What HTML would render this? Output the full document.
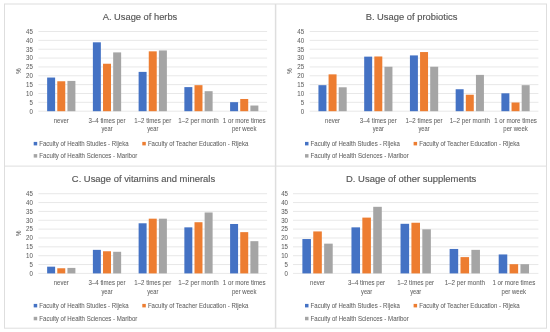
<!DOCTYPE html>
<html><head><meta charset="utf-8"><title>Usage charts</title>
<style>
html,body{margin:0;padding:0;background:#fff;}
body{width:550px;height:332px;overflow:hidden;}
svg{display:block;}
svg text{font-family:"Liberation Sans",sans-serif;fill:#626262;stroke:#626262;stroke-width:0.05px;}
svg text.ttl{fill:#555;stroke:#555;stroke-width:0.14px;}
</style></head><body>
<svg width="550" height="332" viewBox="0 0 550 332">
<defs><filter id="soft" x="0" y="0" width="100%" height="100%" filterUnits="userSpaceOnUse" color-interpolation-filters="sRGB"><feGaussianBlur stdDeviation="0.35"/></filter></defs>
<rect width="550" height="332" fill="#fff"/>
<g filter="url(#soft)">
<rect width="550" height="332" fill="#fff"/>
<rect x="4.5" y="4.0" width="542.0" height="324.2" fill="#fff" stroke="#dedede" stroke-width="1"/>
<line x1="4.5" x2="546.5" y1="166.1" y2="166.1" stroke="#dedede" stroke-width="1"/>
<line x1="275.6" x2="275.6" y1="4.0" y2="328.2" stroke="#dedede" stroke-width="1.5"/>
<g transform="translate(0.00,0.00)">
<line x1="38.40" x2="267.10" y1="111.20" y2="111.20" stroke="#d9d9d9" stroke-width="0.6"/>
<text x="32.80" y="113.50" font-size="6.5" text-anchor="end" textLength="3.4" lengthAdjust="spacingAndGlyphs">0</text>
<line x1="38.40" x2="267.10" y1="102.34" y2="102.34" stroke="#d9d9d9" stroke-width="0.6"/>
<text x="32.80" y="104.64" font-size="6.5" text-anchor="end" textLength="3.4" lengthAdjust="spacingAndGlyphs">5</text>
<line x1="38.40" x2="267.10" y1="93.49" y2="93.49" stroke="#d9d9d9" stroke-width="0.6"/>
<text x="32.80" y="95.79" font-size="6.5" text-anchor="end" textLength="6.8" lengthAdjust="spacingAndGlyphs">10</text>
<line x1="38.40" x2="267.10" y1="84.64" y2="84.64" stroke="#d9d9d9" stroke-width="0.6"/>
<text x="32.80" y="86.94" font-size="6.5" text-anchor="end" textLength="6.8" lengthAdjust="spacingAndGlyphs">15</text>
<line x1="38.40" x2="267.10" y1="75.78" y2="75.78" stroke="#d9d9d9" stroke-width="0.6"/>
<text x="32.80" y="78.08" font-size="6.5" text-anchor="end" textLength="6.8" lengthAdjust="spacingAndGlyphs">20</text>
<line x1="38.40" x2="267.10" y1="66.93" y2="66.93" stroke="#d9d9d9" stroke-width="0.6"/>
<text x="32.80" y="69.23" font-size="6.5" text-anchor="end" textLength="6.8" lengthAdjust="spacingAndGlyphs">25</text>
<line x1="38.40" x2="267.10" y1="58.07" y2="58.07" stroke="#d9d9d9" stroke-width="0.6"/>
<text x="32.80" y="60.37" font-size="6.5" text-anchor="end" textLength="6.8" lengthAdjust="spacingAndGlyphs">30</text>
<line x1="38.40" x2="267.10" y1="49.22" y2="49.22" stroke="#d9d9d9" stroke-width="0.6"/>
<text x="32.80" y="51.52" font-size="6.5" text-anchor="end" textLength="6.8" lengthAdjust="spacingAndGlyphs">35</text>
<line x1="38.40" x2="267.10" y1="40.36" y2="40.36" stroke="#d9d9d9" stroke-width="0.6"/>
<text x="32.80" y="42.66" font-size="6.5" text-anchor="end" textLength="6.8" lengthAdjust="spacingAndGlyphs">40</text>
<line x1="38.40" x2="267.10" y1="31.51" y2="31.51" stroke="#d9d9d9" stroke-width="0.6"/>
<text x="32.80" y="33.81" font-size="6.5" text-anchor="end" textLength="6.8" lengthAdjust="spacingAndGlyphs">45</text>
<text transform="translate(20.9,71.1) rotate(-90)" font-size="7" text-anchor="middle" textLength="5.8" lengthAdjust="spacingAndGlyphs">%</text>
<rect x="47.14" y="77.55" width="7.98" height="33.65" fill="#4472c4"/>
<rect x="57.28" y="81.27" width="7.98" height="29.93" fill="#ed7d31"/>
<rect x="67.42" y="80.92" width="7.98" height="30.28" fill="#a5a5a5"/>
<text x="61.27" y="122.70" font-size="6.5" text-anchor="middle" textLength="14.9" lengthAdjust="spacingAndGlyphs">never</text>
<rect x="92.88" y="42.31" width="7.98" height="68.89" fill="#4472c4"/>
<rect x="103.02" y="63.74" width="7.98" height="47.46" fill="#ed7d31"/>
<rect x="113.16" y="52.40" width="7.98" height="58.80" fill="#a5a5a5"/>
<text x="107.01" y="122.70" font-size="6.5" text-anchor="middle" textLength="37.0" lengthAdjust="spacingAndGlyphs">3–4 times per</text>
<text x="107.01" y="131.20" font-size="6.5" text-anchor="middle" textLength="11.1" lengthAdjust="spacingAndGlyphs">year</text>
<rect x="138.62" y="71.88" width="7.98" height="39.32" fill="#4472c4"/>
<rect x="148.76" y="51.34" width="7.98" height="59.86" fill="#ed7d31"/>
<rect x="158.90" y="50.45" width="7.98" height="60.75" fill="#a5a5a5"/>
<text x="152.75" y="122.70" font-size="6.5" text-anchor="middle" textLength="36.9" lengthAdjust="spacingAndGlyphs">1–2 times per</text>
<text x="152.75" y="131.20" font-size="6.5" text-anchor="middle" textLength="11.1" lengthAdjust="spacingAndGlyphs">year</text>
<rect x="184.36" y="87.11" width="7.98" height="24.09" fill="#4472c4"/>
<rect x="194.50" y="85.17" width="7.98" height="26.03" fill="#ed7d31"/>
<rect x="204.64" y="91.19" width="7.98" height="20.01" fill="#a5a5a5"/>
<text x="198.49" y="122.70" font-size="6.5" text-anchor="middle" textLength="40.3" lengthAdjust="spacingAndGlyphs">1–2 per month</text>
<rect x="230.10" y="102.17" width="7.98" height="9.03" fill="#4472c4"/>
<rect x="240.24" y="98.98" width="7.98" height="12.22" fill="#ed7d31"/>
<rect x="250.38" y="105.53" width="7.98" height="5.67" fill="#a5a5a5"/>
<text x="244.23" y="122.70" font-size="6.5" text-anchor="middle" textLength="42.8" lengthAdjust="spacingAndGlyphs">1 or more times</text>
<text x="244.23" y="131.20" font-size="6.5" text-anchor="middle" textLength="24.5" lengthAdjust="spacingAndGlyphs">per week</text>
<text x="140.00" y="19.90" font-size="9.1" text-anchor="middle" textLength="74.6" lengthAdjust="spacingAndGlyphs" class="ttl">A. Usage of herbs</text>
<rect x="33.70" y="141.90" width="3.5" height="3.5" fill="#4472c4"/>
<text x="39.30" y="145.80" font-size="6.5" text-anchor="start" textLength="89.3" lengthAdjust="spacingAndGlyphs">Faculty of Health Studies - Rijeka</text>
<rect x="142.30" y="141.90" width="3.5" height="3.5" fill="#ed7d31"/>
<text x="147.90" y="145.80" font-size="6.5" text-anchor="start" textLength="100.4" lengthAdjust="spacingAndGlyphs">Faculty of Teacher Education - Rijeka</text>
<rect x="33.70" y="154.10" width="3.5" height="3.5" fill="#a5a5a5"/>
<text x="39.30" y="158.00" font-size="6.5" text-anchor="start" textLength="98.1" lengthAdjust="spacingAndGlyphs">Faculty of Health Sciences - Maribor</text>
</g>
<g transform="translate(271.30,0.00)">
<line x1="38.40" x2="267.10" y1="111.20" y2="111.20" stroke="#d9d9d9" stroke-width="0.6"/>
<text x="32.80" y="113.50" font-size="6.5" text-anchor="end" textLength="3.4" lengthAdjust="spacingAndGlyphs">0</text>
<line x1="38.40" x2="267.10" y1="102.34" y2="102.34" stroke="#d9d9d9" stroke-width="0.6"/>
<text x="32.80" y="104.64" font-size="6.5" text-anchor="end" textLength="3.4" lengthAdjust="spacingAndGlyphs">5</text>
<line x1="38.40" x2="267.10" y1="93.49" y2="93.49" stroke="#d9d9d9" stroke-width="0.6"/>
<text x="32.80" y="95.79" font-size="6.5" text-anchor="end" textLength="6.8" lengthAdjust="spacingAndGlyphs">10</text>
<line x1="38.40" x2="267.10" y1="84.64" y2="84.64" stroke="#d9d9d9" stroke-width="0.6"/>
<text x="32.80" y="86.94" font-size="6.5" text-anchor="end" textLength="6.8" lengthAdjust="spacingAndGlyphs">15</text>
<line x1="38.40" x2="267.10" y1="75.78" y2="75.78" stroke="#d9d9d9" stroke-width="0.6"/>
<text x="32.80" y="78.08" font-size="6.5" text-anchor="end" textLength="6.8" lengthAdjust="spacingAndGlyphs">20</text>
<line x1="38.40" x2="267.10" y1="66.93" y2="66.93" stroke="#d9d9d9" stroke-width="0.6"/>
<text x="32.80" y="69.23" font-size="6.5" text-anchor="end" textLength="6.8" lengthAdjust="spacingAndGlyphs">25</text>
<line x1="38.40" x2="267.10" y1="58.07" y2="58.07" stroke="#d9d9d9" stroke-width="0.6"/>
<text x="32.80" y="60.37" font-size="6.5" text-anchor="end" textLength="6.8" lengthAdjust="spacingAndGlyphs">30</text>
<line x1="38.40" x2="267.10" y1="49.22" y2="49.22" stroke="#d9d9d9" stroke-width="0.6"/>
<text x="32.80" y="51.52" font-size="6.5" text-anchor="end" textLength="6.8" lengthAdjust="spacingAndGlyphs">35</text>
<line x1="38.40" x2="267.10" y1="40.36" y2="40.36" stroke="#d9d9d9" stroke-width="0.6"/>
<text x="32.80" y="42.66" font-size="6.5" text-anchor="end" textLength="6.8" lengthAdjust="spacingAndGlyphs">40</text>
<line x1="38.40" x2="267.10" y1="31.51" y2="31.51" stroke="#d9d9d9" stroke-width="0.6"/>
<text x="32.80" y="33.81" font-size="6.5" text-anchor="end" textLength="6.8" lengthAdjust="spacingAndGlyphs">45</text>
<text transform="translate(20.9,71.1) rotate(-90)" font-size="7" text-anchor="middle" textLength="5.8" lengthAdjust="spacingAndGlyphs">%</text>
<rect x="47.14" y="85.17" width="7.98" height="26.03" fill="#4472c4"/>
<rect x="57.28" y="74.36" width="7.98" height="36.84" fill="#ed7d31"/>
<rect x="67.42" y="87.29" width="7.98" height="23.91" fill="#a5a5a5"/>
<text x="61.27" y="122.70" font-size="6.5" text-anchor="middle" textLength="14.9" lengthAdjust="spacingAndGlyphs">never</text>
<rect x="92.88" y="56.65" width="7.98" height="54.55" fill="#4472c4"/>
<rect x="103.02" y="56.48" width="7.98" height="54.72" fill="#ed7d31"/>
<rect x="113.16" y="66.75" width="7.98" height="44.45" fill="#a5a5a5"/>
<text x="107.01" y="122.70" font-size="6.5" text-anchor="middle" textLength="37.0" lengthAdjust="spacingAndGlyphs">3–4 times per</text>
<text x="107.01" y="131.20" font-size="6.5" text-anchor="middle" textLength="11.1" lengthAdjust="spacingAndGlyphs">year</text>
<rect x="138.62" y="55.41" width="7.98" height="55.79" fill="#4472c4"/>
<rect x="148.76" y="52.05" width="7.98" height="59.15" fill="#ed7d31"/>
<rect x="158.90" y="66.75" width="7.98" height="44.45" fill="#a5a5a5"/>
<text x="152.75" y="122.70" font-size="6.5" text-anchor="middle" textLength="36.9" lengthAdjust="spacingAndGlyphs">1–2 times per</text>
<text x="152.75" y="131.20" font-size="6.5" text-anchor="middle" textLength="11.1" lengthAdjust="spacingAndGlyphs">year</text>
<rect x="184.36" y="89.24" width="7.98" height="21.96" fill="#4472c4"/>
<rect x="194.50" y="94.73" width="7.98" height="16.47" fill="#ed7d31"/>
<rect x="204.64" y="74.89" width="7.98" height="36.31" fill="#a5a5a5"/>
<text x="198.49" y="122.70" font-size="6.5" text-anchor="middle" textLength="40.3" lengthAdjust="spacingAndGlyphs">1–2 per month</text>
<rect x="230.10" y="93.31" width="7.98" height="17.89" fill="#4472c4"/>
<rect x="240.24" y="102.52" width="7.98" height="8.68" fill="#ed7d31"/>
<rect x="250.38" y="85.17" width="7.98" height="26.03" fill="#a5a5a5"/>
<text x="244.23" y="122.70" font-size="6.5" text-anchor="middle" textLength="42.8" lengthAdjust="spacingAndGlyphs">1 or more times</text>
<text x="244.23" y="131.20" font-size="6.5" text-anchor="middle" textLength="24.5" lengthAdjust="spacingAndGlyphs">per week</text>
<text x="140.20" y="19.90" font-size="9.1" text-anchor="middle" textLength="91.7" lengthAdjust="spacingAndGlyphs" class="ttl">B. Usage of probiotics</text>
<rect x="33.70" y="141.90" width="3.5" height="3.5" fill="#4472c4"/>
<text x="39.30" y="145.80" font-size="6.5" text-anchor="start" textLength="89.3" lengthAdjust="spacingAndGlyphs">Faculty of Health Studies - Rijeka</text>
<rect x="142.30" y="141.90" width="3.5" height="3.5" fill="#ed7d31"/>
<text x="147.90" y="145.80" font-size="6.5" text-anchor="start" textLength="100.4" lengthAdjust="spacingAndGlyphs">Faculty of Teacher Education - Rijeka</text>
<rect x="33.70" y="154.10" width="3.5" height="3.5" fill="#a5a5a5"/>
<text x="39.30" y="158.00" font-size="6.5" text-anchor="start" textLength="98.1" lengthAdjust="spacingAndGlyphs">Faculty of Health Sciences - Maribor</text>
</g>
<g transform="translate(0.00,162.20)">
<line x1="38.40" x2="267.10" y1="111.20" y2="111.20" stroke="#d9d9d9" stroke-width="0.6"/>
<text x="32.80" y="113.50" font-size="6.5" text-anchor="end" textLength="3.4" lengthAdjust="spacingAndGlyphs">0</text>
<line x1="38.40" x2="267.10" y1="102.34" y2="102.34" stroke="#d9d9d9" stroke-width="0.6"/>
<text x="32.80" y="104.64" font-size="6.5" text-anchor="end" textLength="3.4" lengthAdjust="spacingAndGlyphs">5</text>
<line x1="38.40" x2="267.10" y1="93.49" y2="93.49" stroke="#d9d9d9" stroke-width="0.6"/>
<text x="32.80" y="95.79" font-size="6.5" text-anchor="end" textLength="6.8" lengthAdjust="spacingAndGlyphs">10</text>
<line x1="38.40" x2="267.10" y1="84.64" y2="84.64" stroke="#d9d9d9" stroke-width="0.6"/>
<text x="32.80" y="86.94" font-size="6.5" text-anchor="end" textLength="6.8" lengthAdjust="spacingAndGlyphs">15</text>
<line x1="38.40" x2="267.10" y1="75.78" y2="75.78" stroke="#d9d9d9" stroke-width="0.6"/>
<text x="32.80" y="78.08" font-size="6.5" text-anchor="end" textLength="6.8" lengthAdjust="spacingAndGlyphs">20</text>
<line x1="38.40" x2="267.10" y1="66.93" y2="66.93" stroke="#d9d9d9" stroke-width="0.6"/>
<text x="32.80" y="69.23" font-size="6.5" text-anchor="end" textLength="6.8" lengthAdjust="spacingAndGlyphs">25</text>
<line x1="38.40" x2="267.10" y1="58.07" y2="58.07" stroke="#d9d9d9" stroke-width="0.6"/>
<text x="32.80" y="60.37" font-size="6.5" text-anchor="end" textLength="6.8" lengthAdjust="spacingAndGlyphs">30</text>
<line x1="38.40" x2="267.10" y1="49.22" y2="49.22" stroke="#d9d9d9" stroke-width="0.6"/>
<text x="32.80" y="51.52" font-size="6.5" text-anchor="end" textLength="6.8" lengthAdjust="spacingAndGlyphs">35</text>
<line x1="38.40" x2="267.10" y1="40.36" y2="40.36" stroke="#d9d9d9" stroke-width="0.6"/>
<text x="32.80" y="42.66" font-size="6.5" text-anchor="end" textLength="6.8" lengthAdjust="spacingAndGlyphs">40</text>
<line x1="38.40" x2="267.10" y1="31.51" y2="31.51" stroke="#d9d9d9" stroke-width="0.6"/>
<text x="32.80" y="33.81" font-size="6.5" text-anchor="end" textLength="6.8" lengthAdjust="spacingAndGlyphs">45</text>
<text transform="translate(20.9,71.1) rotate(-90)" font-size="7" text-anchor="middle" textLength="5.8" lengthAdjust="spacingAndGlyphs">%</text>
<rect x="47.14" y="104.47" width="7.98" height="6.73" fill="#4472c4"/>
<rect x="57.28" y="106.06" width="7.98" height="5.14" fill="#ed7d31"/>
<rect x="67.42" y="105.71" width="7.98" height="5.49" fill="#a5a5a5"/>
<text x="61.27" y="123.10" font-size="6.5" text-anchor="middle" textLength="14.9" lengthAdjust="spacingAndGlyphs">never</text>
<rect x="92.88" y="87.65" width="7.98" height="23.55" fill="#4472c4"/>
<rect x="103.02" y="89.06" width="7.98" height="22.14" fill="#ed7d31"/>
<rect x="113.16" y="89.59" width="7.98" height="21.61" fill="#a5a5a5"/>
<text x="107.01" y="123.10" font-size="6.5" text-anchor="middle" textLength="37.0" lengthAdjust="spacingAndGlyphs">3–4 times per</text>
<text x="107.01" y="131.60" font-size="6.5" text-anchor="middle" textLength="11.1" lengthAdjust="spacingAndGlyphs">year</text>
<rect x="138.62" y="61.08" width="7.98" height="50.12" fill="#4472c4"/>
<rect x="148.76" y="56.48" width="7.98" height="54.72" fill="#ed7d31"/>
<rect x="158.90" y="56.48" width="7.98" height="54.72" fill="#a5a5a5"/>
<text x="152.75" y="123.10" font-size="6.5" text-anchor="middle" textLength="36.9" lengthAdjust="spacingAndGlyphs">1–2 times per</text>
<text x="152.75" y="131.60" font-size="6.5" text-anchor="middle" textLength="11.1" lengthAdjust="spacingAndGlyphs">year</text>
<rect x="184.36" y="65.15" width="7.98" height="46.05" fill="#4472c4"/>
<rect x="194.50" y="60.02" width="7.98" height="51.18" fill="#ed7d31"/>
<rect x="204.64" y="50.28" width="7.98" height="60.92" fill="#a5a5a5"/>
<text x="198.49" y="123.10" font-size="6.5" text-anchor="middle" textLength="40.3" lengthAdjust="spacingAndGlyphs">1–2 per month</text>
<rect x="230.10" y="61.79" width="7.98" height="49.41" fill="#4472c4"/>
<rect x="240.24" y="69.94" width="7.98" height="41.26" fill="#ed7d31"/>
<rect x="250.38" y="78.97" width="7.98" height="32.23" fill="#a5a5a5"/>
<text x="244.23" y="123.10" font-size="6.5" text-anchor="middle" textLength="42.8" lengthAdjust="spacingAndGlyphs">1 or more times</text>
<text x="244.23" y="131.60" font-size="6.5" text-anchor="middle" textLength="24.5" lengthAdjust="spacingAndGlyphs">per week</text>
<text x="143.50" y="19.90" font-size="9.1" text-anchor="middle" textLength="143.3" lengthAdjust="spacingAndGlyphs" class="ttl">C. Usage of vitamins and minerals</text>
<rect x="33.70" y="141.70" width="3.5" height="3.5" fill="#4472c4"/>
<text x="39.30" y="145.60" font-size="6.5" text-anchor="start" textLength="89.3" lengthAdjust="spacingAndGlyphs">Faculty of Health Studies - Rijeka</text>
<rect x="142.30" y="141.70" width="3.5" height="3.5" fill="#ed7d31"/>
<text x="147.90" y="145.60" font-size="6.5" text-anchor="start" textLength="100.4" lengthAdjust="spacingAndGlyphs">Faculty of Teacher Education - Rijeka</text>
<rect x="33.70" y="154.60" width="3.5" height="3.5" fill="#a5a5a5"/>
<text x="39.30" y="158.50" font-size="6.5" text-anchor="start" textLength="98.1" lengthAdjust="spacingAndGlyphs">Faculty of Health Sciences - Maribor</text>
</g>
<g transform="translate(271.30,162.20)">
<line x1="21.70" x2="267.10" y1="111.20" y2="111.20" stroke="#d9d9d9" stroke-width="0.6"/>
<text x="16.70" y="113.50" font-size="6.5" text-anchor="end" textLength="3.4" lengthAdjust="spacingAndGlyphs">0</text>
<line x1="21.70" x2="267.10" y1="102.34" y2="102.34" stroke="#d9d9d9" stroke-width="0.6"/>
<text x="16.70" y="104.64" font-size="6.5" text-anchor="end" textLength="3.4" lengthAdjust="spacingAndGlyphs">5</text>
<line x1="21.70" x2="267.10" y1="93.49" y2="93.49" stroke="#d9d9d9" stroke-width="0.6"/>
<text x="16.70" y="95.79" font-size="6.5" text-anchor="end" textLength="6.8" lengthAdjust="spacingAndGlyphs">10</text>
<line x1="21.70" x2="267.10" y1="84.64" y2="84.64" stroke="#d9d9d9" stroke-width="0.6"/>
<text x="16.70" y="86.94" font-size="6.5" text-anchor="end" textLength="6.8" lengthAdjust="spacingAndGlyphs">15</text>
<line x1="21.70" x2="267.10" y1="75.78" y2="75.78" stroke="#d9d9d9" stroke-width="0.6"/>
<text x="16.70" y="78.08" font-size="6.5" text-anchor="end" textLength="6.8" lengthAdjust="spacingAndGlyphs">20</text>
<line x1="21.70" x2="267.10" y1="66.93" y2="66.93" stroke="#d9d9d9" stroke-width="0.6"/>
<text x="16.70" y="69.23" font-size="6.5" text-anchor="end" textLength="6.8" lengthAdjust="spacingAndGlyphs">25</text>
<line x1="21.70" x2="267.10" y1="58.07" y2="58.07" stroke="#d9d9d9" stroke-width="0.6"/>
<text x="16.70" y="60.37" font-size="6.5" text-anchor="end" textLength="6.8" lengthAdjust="spacingAndGlyphs">30</text>
<line x1="21.70" x2="267.10" y1="49.22" y2="49.22" stroke="#d9d9d9" stroke-width="0.6"/>
<text x="16.70" y="51.52" font-size="6.5" text-anchor="end" textLength="6.8" lengthAdjust="spacingAndGlyphs">35</text>
<line x1="21.70" x2="267.10" y1="40.36" y2="40.36" stroke="#d9d9d9" stroke-width="0.6"/>
<text x="16.70" y="42.66" font-size="6.5" text-anchor="end" textLength="6.8" lengthAdjust="spacingAndGlyphs">40</text>
<line x1="21.70" x2="267.10" y1="31.51" y2="31.51" stroke="#d9d9d9" stroke-width="0.6"/>
<text x="16.70" y="33.81" font-size="6.5" text-anchor="end" textLength="6.8" lengthAdjust="spacingAndGlyphs">45</text>
<rect x="31.08" y="76.84" width="8.57" height="34.36" fill="#4472c4"/>
<rect x="41.96" y="69.23" width="8.57" height="41.97" fill="#ed7d31"/>
<rect x="52.84" y="81.45" width="8.57" height="29.75" fill="#a5a5a5"/>
<text x="46.24" y="123.10" font-size="6.5" text-anchor="middle" textLength="14.9" lengthAdjust="spacingAndGlyphs">never</text>
<rect x="80.16" y="65.15" width="8.57" height="46.05" fill="#4472c4"/>
<rect x="91.04" y="55.41" width="8.57" height="55.79" fill="#ed7d31"/>
<rect x="101.92" y="44.61" width="8.57" height="66.59" fill="#a5a5a5"/>
<text x="95.32" y="123.10" font-size="6.5" text-anchor="middle" textLength="37.0" lengthAdjust="spacingAndGlyphs">3–4 times per</text>
<text x="95.32" y="131.60" font-size="6.5" text-anchor="middle" textLength="11.1" lengthAdjust="spacingAndGlyphs">year</text>
<rect x="129.24" y="61.61" width="8.57" height="49.59" fill="#4472c4"/>
<rect x="140.12" y="60.55" width="8.57" height="50.65" fill="#ed7d31"/>
<rect x="151.00" y="67.10" width="8.57" height="44.10" fill="#a5a5a5"/>
<text x="144.40" y="123.10" font-size="6.5" text-anchor="middle" textLength="36.9" lengthAdjust="spacingAndGlyphs">1–2 times per</text>
<text x="144.40" y="131.60" font-size="6.5" text-anchor="middle" textLength="11.1" lengthAdjust="spacingAndGlyphs">year</text>
<rect x="178.32" y="86.76" width="8.57" height="24.44" fill="#4472c4"/>
<rect x="189.20" y="94.91" width="8.57" height="16.29" fill="#ed7d31"/>
<rect x="200.08" y="87.65" width="8.57" height="23.55" fill="#a5a5a5"/>
<text x="193.48" y="123.10" font-size="6.5" text-anchor="middle" textLength="40.3" lengthAdjust="spacingAndGlyphs">1–2 per month</text>
<rect x="227.40" y="92.25" width="8.57" height="18.95" fill="#4472c4"/>
<rect x="238.28" y="101.99" width="8.57" height="9.21" fill="#ed7d31"/>
<rect x="249.16" y="101.99" width="8.57" height="9.21" fill="#a5a5a5"/>
<text x="242.56" y="123.10" font-size="6.5" text-anchor="middle" textLength="42.8" lengthAdjust="spacingAndGlyphs">1 or more times</text>
<text x="242.56" y="131.60" font-size="6.5" text-anchor="middle" textLength="24.5" lengthAdjust="spacingAndGlyphs">per week</text>
<text x="139.90" y="19.90" font-size="9.1" text-anchor="middle" textLength="130.3" lengthAdjust="spacingAndGlyphs" class="ttl">D. Usage of other supplements</text>
<rect x="33.70" y="141.70" width="3.5" height="3.5" fill="#4472c4"/>
<text x="39.30" y="145.60" font-size="6.5" text-anchor="start" textLength="89.3" lengthAdjust="spacingAndGlyphs">Faculty of Health Studies - Rijeka</text>
<rect x="142.30" y="141.70" width="3.5" height="3.5" fill="#ed7d31"/>
<text x="147.90" y="145.60" font-size="6.5" text-anchor="start" textLength="100.4" lengthAdjust="spacingAndGlyphs">Faculty of Teacher Education - Rijeka</text>
<rect x="33.70" y="154.60" width="3.5" height="3.5" fill="#a5a5a5"/>
<text x="39.30" y="158.50" font-size="6.5" text-anchor="start" textLength="98.1" lengthAdjust="spacingAndGlyphs">Faculty of Health Sciences - Maribor</text>
</g>
</g>
</svg>
</body></html>
